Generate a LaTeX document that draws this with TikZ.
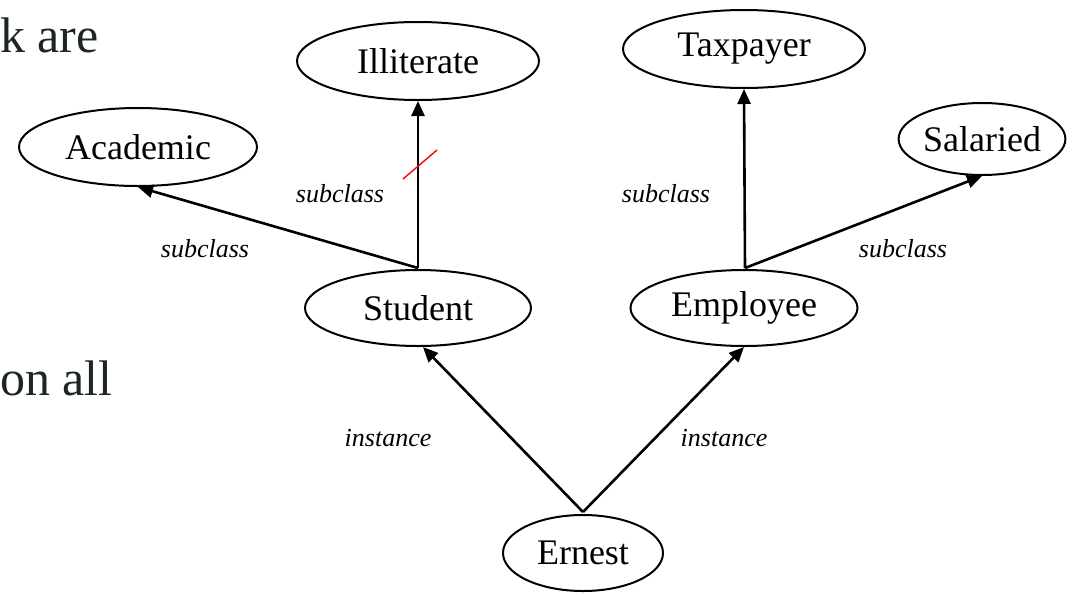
\documentclass[tikz,border=0pt]{standalone}
\usepackage{fontspec}
\setmainfont{Liberation Serif}
\usetikzlibrary{shapes.geometric,arrows.meta}
\definecolor{slidetext}{HTML}{1C2626}
\begin{document}
\begin{tikzpicture}[x=1pt,y=-1pt,
  concept/.style={ellipse,draw,line width=2pt,inner sep=0pt,font=\fontsize{36}{40}\selectfont},
  link/.style={line width=2.6pt,-{Triangle[length=15pt,width=13pt]}},
  rel/.style={font=\fontsize{26}{30}\selectfont\itshape}]
\useasboundingbox (0,0) rectangle (1074,595);

% background slide text, partly covered
\node[anchor=base west,inner sep=0pt,text=slidetext,font=\fontsize{50}{56}\selectfont] (t1) at (0,52) {k are};
\node[anchor=base west,inner sep=0pt,text=slidetext,font=\fontsize{50}{56}\selectfont] (t2) at (0,395) {on all};

% classes and the instance
\node[concept,minimum width=242pt,minimum height=78pt] (illit) at (418,61) {Illiterate};
\node[concept,minimum width=238pt,minimum height=78pt] (acad) at (138,147) {Academic};
\node[concept,minimum width=242pt,minimum height=78pt] (tax) at (744,49) {Taxpayer};
\node[concept,minimum width=158pt,minimum height=72pt] (sal) at (982,139) {Salaried};
\node[concept,minimum width=226pt,minimum height=76pt] (stud) at (418,308) {Student};
\node[concept,minimum width=227pt,minimum height=76pt] (emp) at (744,308) {Employee};
\node[concept,minimum width=160pt,minimum height=76pt] (ern) at (583,553) {Ernest};

% anchor points just above the sources
\coordinate (studtop) at (418,268);
\coordinate (emptop) at (745,268);
\coordinate (erntop) at (583,512);

\draw[link] (studtop) -- (illit.south);
\draw[link] (studtop) -- (acad.south);
\draw[link] (emptop) -- (tax.south);
\draw[link] (emptop) -- (sal.south);
\draw[link] (erntop) -- ([xshift=5pt]stud.south);
\draw[link] (erntop) -- (emp.south);

% cancelled subclass link
\coordinate (c1) at (403,179);
\coordinate (c2) at (437,150);
\draw[red,line width=1.4pt] (c1) -- (c2);

% link labels
\node[rel] (l1) at (340,194) {subclass};
\node[rel] (l2) at (205,249) {subclass};
\node[rel] (l3) at (666,194) {subclass};
\node[rel] (l4) at (903,249) {subclass};
\node[rel] (l5) at (388,438) {instance};
\node[rel] (l6) at (724,438) {instance};
\end{tikzpicture}
\end{document}
